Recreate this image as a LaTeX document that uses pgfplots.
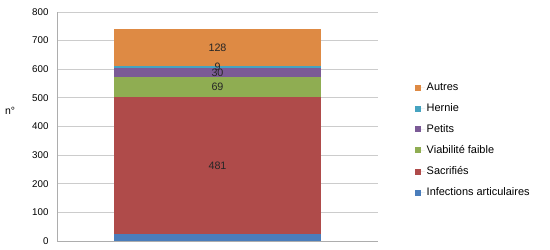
\documentclass[border=0pt]{standalone}
\usepackage{pgfplots}
\pgfplotsset{compat=1.18}
\usepackage{fontspec}
\setmainfont{Liberation Sans}
\definecolor{cBlue}{RGB}{74,125,187}
\definecolor{cRed}{RGB}{175,75,74}
\definecolor{cGreen}{RGB}{143,173,82}
\definecolor{cPurple}{RGB}{123,90,150}
\definecolor{cAqua}{RGB}{70,163,192}
\definecolor{cOrange}{RGB}{222,138,68}
\begin{document}
\begin{tikzpicture}
\useasboundingbox (0,0) rectangle (550bp,250bp);
\begin{axis}[
  at={(57bp,9bp)}, anchor=south west,
  scale only axis, width=321bp, height=229bp,
  xmin=-1, xmax=1, ymin=0, ymax=800,
  ytick={0,100,...,800}, xtick=\empty,
  ymajorgrids, grid style={draw=black!20, line width=0.8bp},
  axis x line*=bottom, axis y line*=left,
  axis line style={draw=black!32, line width=0.8bp, -},
  major tick length=0pt,
  yticklabel style={font=\fontsize{9.8}{11}\selectfont, xshift=-5bp},
  /pgf/number format/assume math mode=true,
  ylabel={n°},
  every axis y label/.style={at={(axis description cs:-0.146,0.57)}, anchor=center, font=\fontsize{10.5}{12}\selectfont},
  ybar stacked, bar width=206bp,
  clip=false,
  reverse legend,
  legend style={at={(1.1153,0.44)}, anchor=west, draw=none, fill=none, inner sep=0pt,
    font=\fontsize{11}{13}\selectfont, row sep=8.5bp, nodes={inner sep=1.5bp}},
  legend cell align=left,
  legend image code/.code={\fill[#1] (0bp,-3bp) rectangle (6bp,3bp); \path (0bp,0bp) -- (10bp,0bp);},
  every node near coord/.append style={anchor=center, font=\fontsize{10.8}{12}\selectfont, text=black!85},
]
\addplot[fill=cBlue, draw=none] coordinates {(0,23)};
\addlegendentry{Infections articulaires}
\addplot[fill=cRed, draw=none, point meta=explicit, nodes near coords] coordinates {(0,481) [481]};
\addlegendentry{Sacrifiés}
\addplot[fill=cGreen, draw=none, point meta=explicit, nodes near coords] coordinates {(0,69) [69]};
\addlegendentry{Viabilité faible}
\addplot[fill=cPurple, draw=none, point meta=explicit, nodes near coords] coordinates {(0,30) [30]};
\addlegendentry{Petits}
\addplot[fill=cAqua, draw=none, point meta=explicit, nodes near coords,
  every node near coord/.append style={yshift=0.8bp}] coordinates {(0,9) [9]};
\addlegendentry{Hernie}
\addplot[fill=cOrange, draw=none, point meta=explicit, nodes near coords] coordinates {(0,128) [128]};
\addlegendentry{Autres}
\end{axis}
\end{tikzpicture}
\end{document}
